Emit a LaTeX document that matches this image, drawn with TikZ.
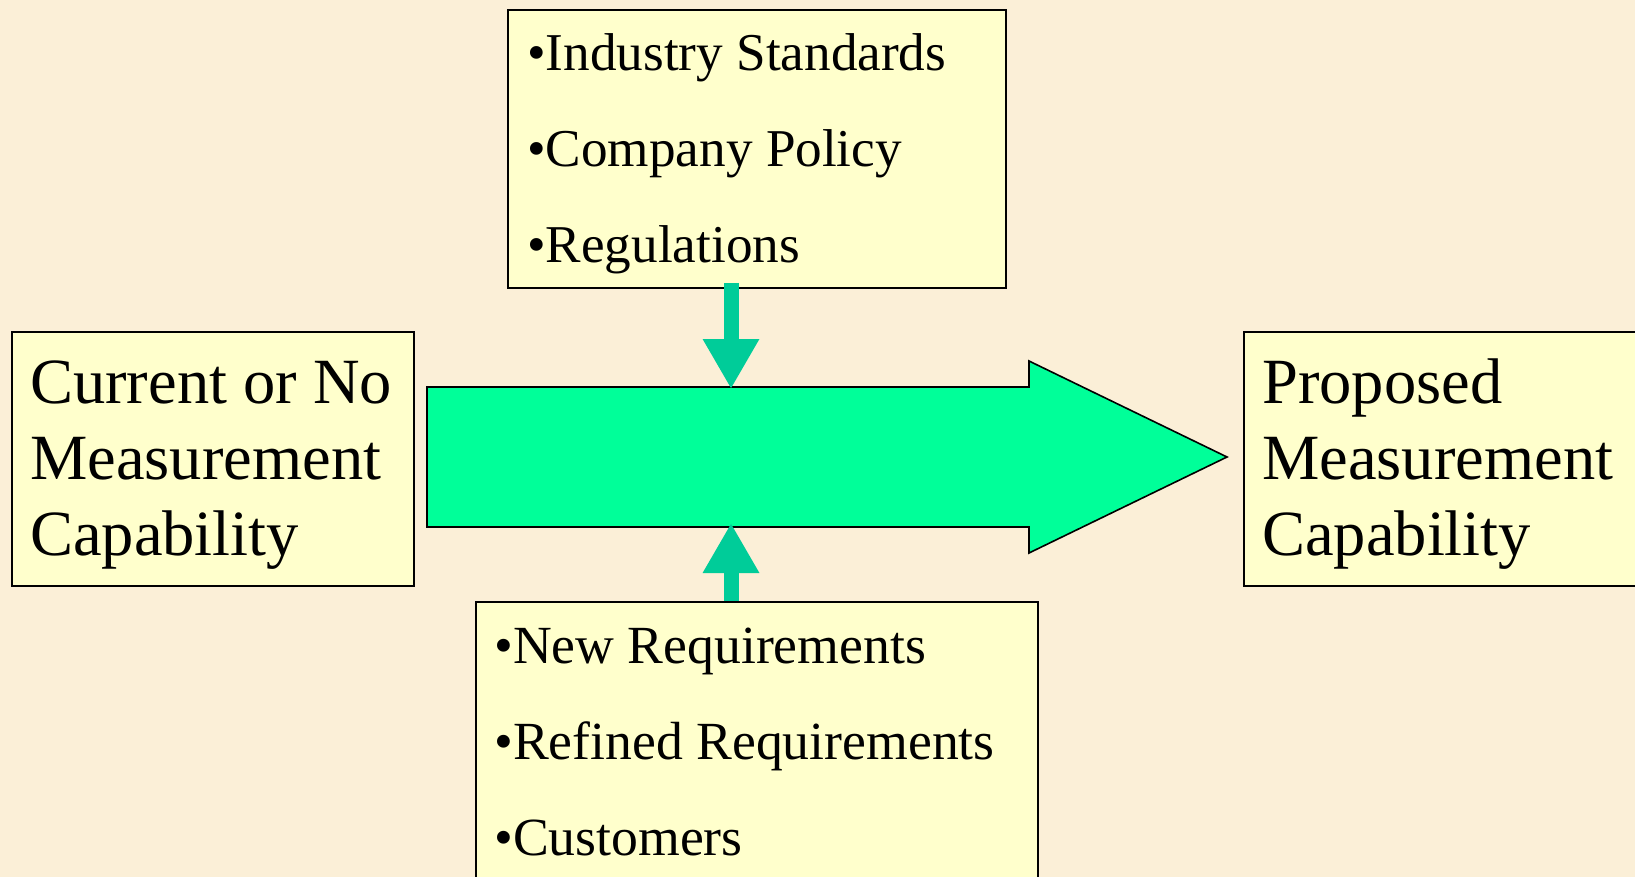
\documentclass[tikz,border=0pt]{standalone}
\usepackage{fontspec}
\setmainfont{Liberation Serif}
\usetikzlibrary{arrows.meta,calc}
\definecolor{bg}{RGB}{251,239,215}
\definecolor{boxyellow}{RGB}{255,255,204}
\definecolor{bigarrow}{RGB}{0,255,153}
\definecolor{feedgreen}{RGB}{0,204,153}
\tikzset{
  box/.style={draw=black, line width=2pt, fill=boxyellow, inner sep=0pt, anchor=north west},
  bigtext/.style={font=\fontsize{64.5}{76}\selectfont, anchor=base west, inner sep=0pt},
  item/.style={font=\fontsize{53.2}{96}\selectfont, anchor=base west, inner sep=0pt},
  itemb/.style={font=\fontsize{53.7}{96}\selectfont, anchor=base west, inner sep=0pt},
  feed/.style={draw=feedgreen, line width=15pt, line cap=butt, -{Triangle[width=53pt,length=50pt]}},
}
\begin{document}
\begin{tikzpicture}[x=1pt,y=-1pt]
\useasboundingbox (0,0) rectangle (1635,877);
\clip (0,0) rectangle (1635,877);
\fill[bg] (0,0) rectangle (1635,877);

% boxes
\node[box, minimum width=402pt, minimum height=254pt] (cur) at (11,331) {};
\node[box, minimum width=450pt, minimum height=254pt] (prop) at (1243,331) {};
\node[box, minimum width=498pt, minimum height=278pt] (top) at (507,9) {};
\node[box, minimum width=562pt, minimum height=320pt] (bot) at (475,601) {};

% texts
\node[bigtext] (c1) at (30,403) {Current or No};
\node[bigtext] (c2) at (30,479) {Measurement};
\node[bigtext] (c3) at (30,555) {Capability};
\node[bigtext] (p1) at (1262,403) {Proposed};
\node[bigtext] (p2) at (1262,479) {Measurement};
\node[bigtext] (p3) at (1262,555) {Capability};
\node[item] (t1) at (527,71) {•Industry Standards};
\node[item] (t2) at (527,167) {•Company Policy};
\node[item] (t3) at (527,263) {•Regulations};
\node[itemb] (b1) at (494,663) {•New Requirements};
\node[itemb] (b2) at (494,759) {•Refined Requirements};
\node[itemb] (b3) at (494,855) {•Customers};

% big arrow
\draw[fill=bigarrow, draw=black, line width=1.6pt, line join=miter]
  (427,387) -- (1029,387) -- (1029,361) -- (1227,457) -- (1029,553) -- (1029,527) -- (427,527) -- cycle;
\coordinate (ain) at (731,389);
\coordinate (aout) at (731,523);

% feeding arrows
\draw[feed] ($(top.south -| ain)+(0,-6)$) -- (ain);
\draw[feed] (bot.north -| aout) -- (aout);
\end{tikzpicture}
\end{document}
